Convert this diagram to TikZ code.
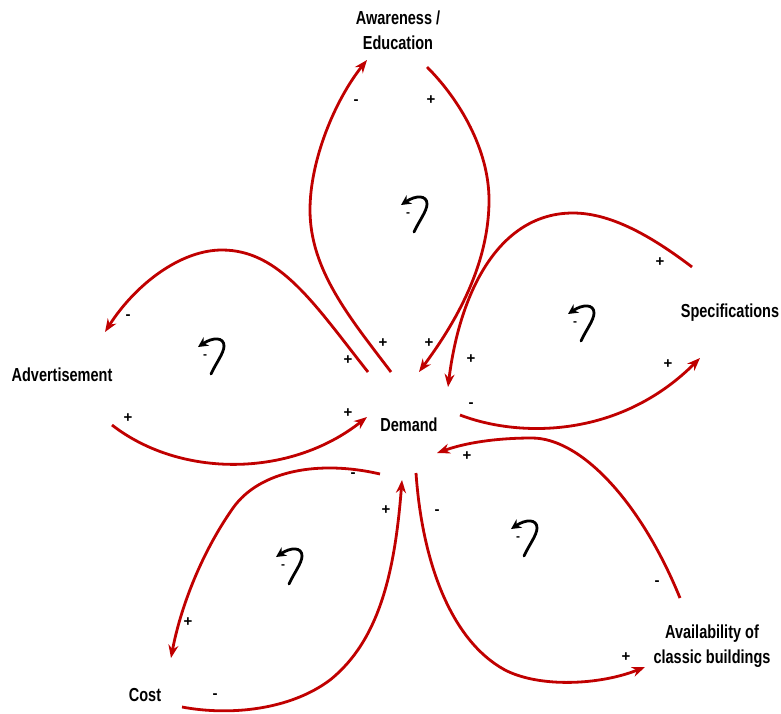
\documentclass[tikz,border=0pt]{standalone}
\usepackage{fontspec}
\setmainfont{Liberation Sans}
\usepackage{graphicx}
\usetikzlibrary{arrows.meta}
\definecolor{linkred}{RGB}{192,0,0}
\newcommand{\tall}[1]{\scalebox{1}[1.3]{#1}}

\begin{document}
\begin{tikzpicture}[x=1pt, y=-1pt,
	link/.style={line width=2.8pt, linkred, -{Stealth[length=13pt, width=10pt]}},
	lbl/.style={font=\bfseries\fontsize{14.5}{25}\selectfont, align=center, inner sep=0pt},
	sgn/.style={font=\bfseries\fontsize{15}{15}\selectfont, inner sep=0pt},
	balsym/.pic={
		\draw[line width=2.8pt, line cap=round, -{Stealth[length=10pt, width=10pt]}] (6,17) .. controls (11,6) and (19,-4) .. (19,-11) .. controls (19,-20) and (8,-20) .. (-7,-10);
		\node[font=\bfseries\fontsize{12}{12}\selectfont, inner sep=0pt] (-m) at (0,0) {-};
	}]
	\useasboundingbox (0,0) rectangle (781,713);

	% Variabler
	\node[lbl] (aware) at (398,30) {\tall{Awareness /}\\\tall{Education}};
	\node[lbl] (spec) at (730,313) {\tall{Specifications}};
	\node[lbl] (adv) at (62,375) {\tall{Advertisement}};
	\node[lbl] (demand) at (409,425) {\tall{Demand}};
	\node[lbl] (avail) at (712,646) {\tall{Availability of}\\\tall{classic buildings}};
	\node[lbl] (cost) at (145,695) {\tall{Cost}};

	% Endepunkter for pilene
	\coordinate (dA1) at (391,372);
	\coordinate (a1) at (367,60);
	\coordinate (a2) at (427,67);
	\coordinate (dA2) at (419,372);
	\coordinate (s1) at (692,267);
	\coordinate (dS1) at (448,387);
	\coordinate (dS2) at (460,415);
	\coordinate (s2) at (700,358);
	\coordinate (v1) at (680,598);
	\coordinate (dV1) at (437,453);
	\coordinate (dV2) at (416,473);
	\coordinate (v2) at (645,667);
	\coordinate (dC1) at (380,474);
	\coordinate (c1) at (171,658);
	\coordinate (c2) at (182,707);
	\coordinate (dC2) at (402,480);
	\coordinate (dD1) at (368,372);
	\coordinate (ad1) at (105,332);
	\coordinate (ad2) at (112,425);
	\coordinate (dD2) at (367,417);

	% Sloyfe: awareness / education
	\draw[link] (dA1) .. controls (350,318) and (310,270) .. (310,210) .. controls (310,160) and (335,100) .. (a1);
	\draw[link] (a2) .. controls (460,100) and (489,150) .. (489,200) .. controls (489,270) and (450,330) .. (dA2);
	\node[sgn] (pa1) at (356,102) {-};
	\node[sgn] (pa2) at (431,100) {+};
	\node[sgn] (pa3) at (383,343) {+};
	\node[sgn] (pa4) at (429,343) {+};
	\pic (lpA) at (408,215) {balsym};

	% Sloyfe: specifications
	\draw[link] (s1) .. controls (650,235) and (610,213) .. (573,213) .. controls (500,213) and (460,290) .. (dS1);
	\draw[link] (dS2) .. controls (520,438) and (620,438) .. (s2);
	\node[sgn] (ps1) at (660,262) {+};
	\node[sgn] (ps2) at (471,359) {+};
	\node[sgn] (ps3) at (668,364) {+};
	\node[sgn] (ps4) at (471,405) {-};
	\pic (lpS) at (575,324) {balsym};

	% Sloyfe: availability
	\draw[link] (v1) .. controls (640,500) and (580,438) .. (532,438) .. controls (495,438) and (465,443) .. (dV1);
	\draw[link] (dV2) .. controls (422,560) and (450,640) .. (505,670) .. controls (540,688) and (600,685) .. (v2);
	\node[sgn] (pv1) at (467,456) {+};
	\node[sgn] (pv2) at (437,512) {-};
	\node[sgn] (pv3) at (657,583) {-};
	\node[sgn] (pv4) at (626,657) {+};
	\pic (lpV) at (518,539) {balsym};

	% Sloyfe: cost
	\draw[link] (dC1) .. controls (320,460) and (260,470) .. (233,508) .. controls (200,555) and (180,610) .. (c1);
	\draw[link] (c2) .. controls (230,716) and (290,710) .. (330,680) .. controls (380,640) and (395,570) .. (dC2);
	\node[sgn] (pc1) at (353,475) {-};
	\node[sgn] (pc2) at (386,510) {+};
	\node[sgn] (pc3) at (188,622) {+};
	\node[sgn] (pc4) at (215,696) {-};
	\pic (lpC) at (283,567) {balsym};

	% Sloyfe: advertisement
	\draw[link] (dD1) .. controls (315,305) and (280,250) .. (222,250) .. controls (180,250) and (135,285) .. (ad1);
	\draw[link] (ad2) .. controls (180,478) and (290,478) .. (dD2);
	\node[sgn] (pd1) at (128,317) {-};
	\node[sgn] (pd2) at (348,360) {+};
	\node[sgn] (pd3) at (128,418) {+};
	\node[sgn] (pd4) at (348,413) {+};
	\pic (lpD) at (205,357) {balsym};
\end{tikzpicture}
\end{document}
